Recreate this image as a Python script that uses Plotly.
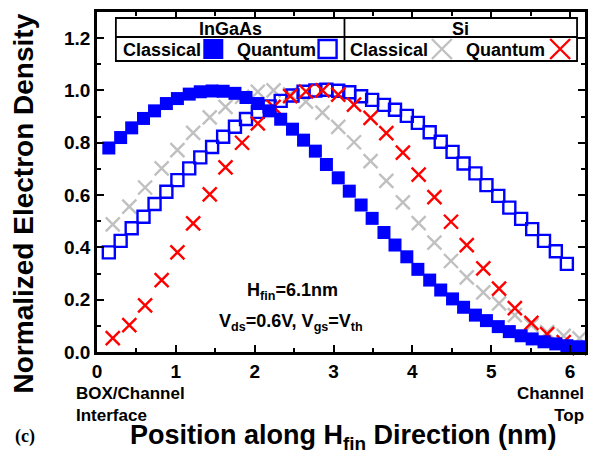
import plotly.graph_objects as go

# ---- data -------------------------------------------------------------
# InGaAs mesh positions along H_fin (nm)
x_ingaas = [0.15, 0.30, 0.44, 0.59, 0.73, 0.88, 1.02, 1.17, 1.31, 1.46,
            1.60, 1.75, 1.89, 2.04, 2.19, 2.33, 2.48, 2.62, 2.77, 2.91,
            3.06, 3.20, 3.35, 3.49, 3.64, 3.78, 3.93, 4.07, 4.22, 4.36,
            4.51, 4.65, 4.80, 4.94, 5.09, 5.23, 5.38, 5.52, 5.67, 5.82,
            5.96, 6.11]
ingaas_classical = [0.780, 0.820, 0.857, 0.893, 0.922, 0.950, 0.969, 0.986, 0.995, 0.998,
                    0.997, 0.989, 0.973, 0.950, 0.922, 0.890, 0.852, 0.810, 0.768, 0.717,
                    0.666, 0.615, 0.562, 0.511, 0.457, 0.409, 0.364, 0.316, 0.275, 0.237,
                    0.203, 0.171, 0.141, 0.120, 0.097, 0.078, 0.062, 0.050, 0.039, 0.031,
                    0.024, 0.020]
ingaas_quantum = [0.381, 0.425, 0.473, 0.517, 0.566, 0.613, 0.657, 0.702, 0.744, 0.784,
                  0.823, 0.861, 0.891, 0.918, 0.939, 0.960, 0.981, 0.995, 1.000, 1.003,
                  0.999, 0.993, 0.978, 0.964, 0.945, 0.926, 0.903, 0.876, 0.840, 0.804,
                  0.765, 0.721, 0.683, 0.638, 0.597, 0.552, 0.509, 0.470, 0.425, 0.385,
                  0.337]

# Si mesh positions along H_fin (nm)
x_si = [0.20, 0.41, 0.61, 0.82, 1.02, 1.22, 1.43, 1.63, 1.84, 2.04,
        2.24, 2.45, 2.65, 2.86, 3.06, 3.26, 3.47, 3.67, 3.88, 4.08,
        4.28, 4.49, 4.69, 4.90, 5.10, 5.30, 5.51, 5.71, 5.92, 6.12]
si_classical = [0.488, 0.556, 0.629, 0.702, 0.772, 0.838, 0.897, 0.937, 0.976, 0.995,
                1.000, 0.985, 0.957, 0.915, 0.861, 0.802, 0.730, 0.654, 0.572, 0.493,
                0.418, 0.348, 0.285, 0.228, 0.186, 0.141, 0.103, 0.076, 0.062, 0.052]
si_quantum = [0.053, 0.103, 0.178, 0.275, 0.381, 0.492, 0.603, 0.706, 0.800, 0.874,
              0.937, 0.978, 0.996, 1.000, 0.984, 0.946, 0.895, 0.837, 0.762, 0.678,
              0.592, 0.498, 0.409, 0.320, 0.242, 0.168, 0.111, 0.068, 0.038, 0.015]

x_tick_vals = [0, 1, 2, 3, 4, 5, 6]
y_tick_vals = [0.0, 0.2, 0.4, 0.6, 0.8, 1.0, 1.2]
y_tick_text = ["0.0", "0.2", "0.4", "0.6", "0.8", "1.0", "1.2"]

# ---- styles ------------------------------------------------------------
BLUE = "#0000ff"
RED = "#ff0000"
GREY = "#c0c0c0"
FONT = "Liberation Sans"

W, H = 597, 457
ML, MR, MT, MB = 97, 9, 12, 105
PW, PH = W - ML - MR, H - MT - MB
X_RANGE = [0, 6.19]
Y_RANGE = [0, 1.30]


def px(xp):
    """pixel column -> paper x"""
    return (xp - ML) / PW


def py(yp):
    """pixel row -> paper y"""
    return (H - MB - yp) / PH


def dx(xp):
    """pixel column -> data x"""
    return X_RANGE[0] + (xp - ML) / PW * (X_RANGE[1] - X_RANGE[0])


def dy(yp):
    """pixel row -> data y"""
    return Y_RANGE[0] + (H - MB - yp) / PH * (Y_RANGE[1] - Y_RANGE[0])


def square_filled(size):
    return dict(symbol="square", size=size, color=BLUE, line=dict(width=0))


def square_open(size):
    return dict(symbol="square-open", size=size, color=BLUE, line=dict(width=2.4, color=BLUE))


def cross(size, color):
    return dict(symbol="x-thin-open", size=size, color=color, line=dict(width=2.4, color=color))


fig = go.Figure()
fig.add_trace(go.Scatter(x=x_si, y=si_classical, mode="markers", marker=cross(14, GREY),
                         name="Si Classical", showlegend=False, cliponaxis=False))
fig.add_trace(go.Scatter(x=x_ingaas[:len(ingaas_quantum)], y=ingaas_quantum, mode="markers",
                         marker=square_open(12), name="InGaAs Quantum", showlegend=False, cliponaxis=False))
fig.add_trace(go.Scatter(x=x_si, y=si_quantum, mode="markers", marker=cross(14, RED),
                         name="Si Quantum", showlegend=False, cliponaxis=False))
fig.add_trace(go.Scatter(x=x_ingaas, y=ingaas_classical, mode="markers", marker=square_filled(13),
                         name="InGaAs Classical", showlegend=False, cliponaxis=False))

# ---- legend table ------------------------------------------------------
lg_left, lg_right, lg_mid = 116, 580, 346
lg_top, lg_row, lg_bot = 18, 37, 61
line_k = dict(color="black", width=1.8)
fig.add_shape(type="rect", xref="paper", yref="paper",
              x0=px(lg_left), x1=px(lg_right), y0=py(lg_bot), y1=py(lg_top),
              line=line_k, fillcolor="white", layer="below")
fig.add_shape(type="line", xref="paper", yref="paper",
              x0=px(lg_left), x1=px(lg_right), y0=py(lg_row), y1=py(lg_row), line=line_k)
fig.add_shape(type="line", xref="paper", yref="paper",
              x0=px(lg_mid), x1=px(lg_mid), y0=py(lg_bot), y1=py(lg_top), line=line_k)

hdr_font = dict(family=FONT, size=18, color="black", weight="bold")
ent_font = dict(family=FONT, size=18, color="black", weight="bold")
row_y = py((lg_row + lg_bot) / 2 + 1)
for text, xc in [("InGaAs", 231), ("Si", 463)]:
    fig.add_annotation(text=text, xref="paper", yref="paper", x=px(xc), y=py((lg_top + lg_row) / 2 + 1),
                       xanchor="center", yanchor="middle", showarrow=False, font=hdr_font)
for text, xr in [("Classical", 204), ("Quantum", 319), ("Classical", 432), ("Quantum", 550)]:
    fig.add_annotation(text=text, xref="paper", yref="paper", x=px(xr), y=row_y,
                       xanchor="right", yanchor="middle", showarrow=False, font=ent_font)

# legend glyphs (drawn larger than the data markers)
glyph_y = dy((lg_row + lg_bot) / 2)
for xc, mk in [(214, square_filled(20)), (329, square_open(18)),
               (444, cross(20, GREY)), (563, cross(20, RED))]:
    fig.add_trace(go.Scatter(x=[dx(xc)], y=[glyph_y], mode="markers", marker=mk,
                             showlegend=False, hoverinfo="skip", cliponaxis=False))

# ---- in-plot notes -----------------------------------------------------
note_font = dict(family=FONT, size=18, color="black", weight="bold")
fig.add_annotation(text="H<sub>fin</sub>=6.1nm", xref="paper", yref="paper",
                   x=px(294), y=py(291), xanchor="center", yanchor="middle",
                   showarrow=False, font=note_font)
fig.add_annotation(text="V<sub>ds</sub>=0.6V, V<sub>gs</sub>=V<sub>th</sub>", xref="paper", yref="paper",
                   x=px(292), y=py(322), xanchor="center", yanchor="middle",
                   showarrow=False, font=note_font)

# ---- labels below the axis ---------------------------------------------
side_font = dict(family=FONT, size=17, color="black", weight="bold")
fig.add_annotation(text="BOX/Channel<br>Interface", xref="paper", yref="paper",
                   x=px(74), y=py(382), xanchor="left", yanchor="top", align="left",
                   showarrow=False, font=side_font)
fig.add_annotation(text="Channel<br>Top", xref="paper", yref="paper",
                   x=px(589), y=py(382), xanchor="right", yanchor="top", align="right",
                   showarrow=False, font=side_font)
fig.add_annotation(text="(c)", xref="paper", yref="paper",
                   x=px(12), y=py(436), xanchor="left", yanchor="middle",
                   showarrow=False, font=dict(family="Liberation Serif", size=18, color="black", weight="bold"))

# ---- axis titles ----------------------------------------------------------
title_font = dict(family=FONT, size=27, color="black", weight="bold")
fig.add_annotation(text="Position along H<sub>fin</sub> Direction (nm)", xref="paper", yref="paper",
                   x=px(345), y=py(437), xanchor="center", yanchor="middle",
                   showarrow=False, font=title_font)
fig.add_annotation(text="Normalized Electron Density", xref="paper", yref="paper",
                   x=px(23), y=py(203), xanchor="center", yanchor="middle", textangle=-90,
                   showarrow=False, font=dict(family=FONT, size=28, color="black", weight="bold"))

tick_font = dict(family=FONT, size=19, color="black", weight="bold")
axis_common = dict(showline=True, linecolor="black", linewidth=2.5, mirror="allticks",
                   ticks="inside", ticklen=7, tickwidth=2, tickcolor="black",
                   showgrid=False, zeroline=False, tickfont=tick_font)

fig.update_xaxes(range=X_RANGE, tickvals=x_tick_vals,
                 minor=dict(ticks="inside", ticklen=4, tickwidth=1.6, tickcolor="black", dtick=0.5, tick0=0),
                 ticklabelstandoff=0, **axis_common)
fig.update_yaxes(range=Y_RANGE, tickvals=y_tick_vals, ticktext=y_tick_text,
                 minor=dict(ticks="inside", ticklen=4, tickwidth=1.6, tickcolor="black", dtick=0.1, tick0=0),
                 ticklabelstandoff=0, **axis_common)

fig.update_layout(width=W, height=H, margin=dict(l=ML, r=MR, t=MT, b=MB),
                  plot_bgcolor="white", paper_bgcolor="white", showlegend=False)

fig.write_html("out.html")
